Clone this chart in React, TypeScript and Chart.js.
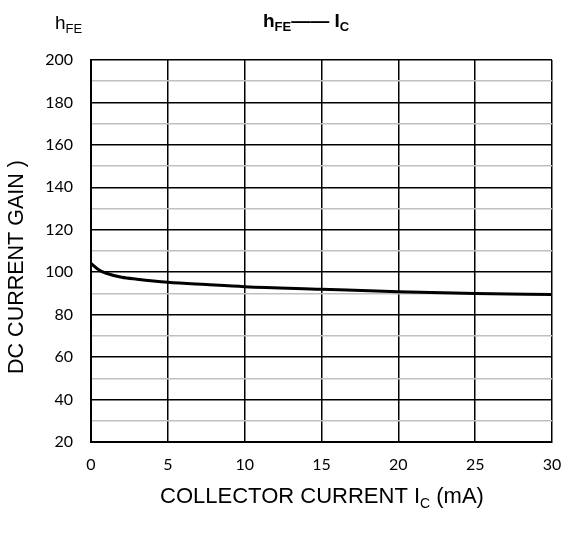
import React, { useEffect, useRef } from "react";
import { Chart, registerables } from "chart.js";

Chart.register(...registerables);

const currentMA = [0, 0.5, 1, 2, 3, 5, 7.5, 10, 15, 20, 25, 30];
const gain = [104.2, 101.2, 99.5, 97.6, 96.7, 95.3, 94.2, 93.2, 92.0, 90.8, 90.0, 89.5];
const xTicks = [0, 5, 10, 15, 20, 25, 30];
const yLabelTicks = [20, 40, 60, 80, 100, 120, 140, 160, 180, 200];

const SANS = "'Liberation Sans', Arial, sans-serif";
const TICK_FONT = "Lato, 'Open Sans', sans-serif";

function drawSub(
  ctx: CanvasRenderingContext2D,
  parts: { t: string; sub?: boolean }[],
  x: number,
  y: number,
  size: number,
  subSize: number,
  bold: boolean,
  align: "left" | "center"
) {
  const w = bold ? "bold " : "";
  let total = 0;
  for (const p of parts) {
    ctx.font = `${w}${p.sub ? subSize : size}px ${SANS}`;
    total += ctx.measureText(p.t).width;
  }
  let cx = align === "center" ? x - total / 2 : x;
  ctx.textAlign = "left";
  ctx.textBaseline = "alphabetic";
  for (const p of parts) {
    ctx.font = `${w}${p.sub ? subSize : size}px ${SANS}`;
    ctx.fillText(p.t, cx, p.sub ? y + size * 0.22 : y);
    cx += ctx.measureText(p.t).width;
  }
}

const textPlugin = {
  id: "texts",
  afterDraw(chart: any) {
    const ctx = chart.ctx as CanvasRenderingContext2D;
    ctx.save();
    ctx.fillStyle = "#000";
    drawSub(ctx, [{ t: "h" }, { t: "FE", sub: true }], 55, 29, 19, 13, false, "left");
    drawSub(
      ctx,
      [{ t: "h" }, { t: "FE", sub: true }, { t: "——" }, { t: " I" }, { t: "C", sub: true }],
      306,
      27,
      19,
      13,
      true,
      "center"
    );
    drawSub(
      ctx,
      [{ t: "COLLECTOR CURRENT I" }, { t: "C", sub: true }, { t: " (mA)" }],
      322,
      503,
      22,
      14,
      false,
      "center"
    );
    ctx.translate(23, 267);
    ctx.rotate(-Math.PI / 2);
    ctx.font = `21.5px ${SANS}`;
    ctx.textAlign = "center";
    ctx.textBaseline = "alphabetic";
    ctx.fillText("DC CURRENT GAIN )", 0, 0);
    ctx.restore();
  },
};

export default function App() {
  const ref = useRef<HTMLCanvasElement | null>(null);
  useEffect(() => {
    if (!ref.current) return;
    const chart = new Chart(ref.current, {
      type: "line",
      data: {
        datasets: [
          {
            data: currentMA.map((x, i) => ({ x, y: gain[i] })),
            borderColor: "#000",
            borderWidth: 3,
            pointRadius: 0,
            cubicInterpolationMode: "monotone",
            fill: false,
          },
        ],
      },
      options: {
        responsive: false,
        animation: false,
        layout: { padding: { top: 60, right: 12, left: 0, bottom: 0 } },
        plugins: { legend: { display: false }, tooltip: { enabled: false }, title: { display: false } },
        scales: {
          x: {
            type: "linear",
            min: 0,
            max: 30,
            afterBuildTicks: (s: any) => {
              s.ticks = xTicks.map((v) => ({ value: v }));
            },
            afterFit: (s: any) => {
              s.height = 92;
              s.paddingLeft = 0;
              s.paddingRight = 0;
            },
            ticks: { color: "#000", font: { family: TICK_FONT, size: 16 }, padding: 13, maxRotation: 0, autoSkip: false },
            grid: { color: "#000", lineWidth: 1.5, drawTicks: false },
            border: { color: "#000", width: 2 },
          },
          y: {
            min: 20,
            max: 200,
            afterBuildTicks: (s: any) => {
              const t: any[] = [];
              for (let v = 20; v <= 200; v += 10) t.push({ value: v });
              s.ticks = t;
            },
            afterFit: (s: any) => {
              s.width = 91;
              s.paddingTop = 0;
              s.paddingBottom = 0;
            },
            ticks: {
              color: "#000",
              font: { family: TICK_FONT, size: 16 },
              padding: 18,
              autoSkip: false,
              callback: (v: any) => (yLabelTicks.includes(Number(v)) ? String(v) : ""),
            },
            grid: {
              color: (c: any) => (c.tick && c.tick.value % 20 === 0 ? "#000" : "#c0c0c0"),
              lineWidth: 1.5,
              drawTicks: false,
            },
            border: { color: "#000", width: 2 },
          },
        },
      },
      plugins: [textPlugin],
    } as any);
    return () => chart.destroy();
  }, []);
  return (
    <div style={{ position: "fixed", left: 0, top: 0, width: 564, height: 534, background: "#fff" }}>
      <canvas ref={ref} width={564} height={534} />
    </div>
  );
}
